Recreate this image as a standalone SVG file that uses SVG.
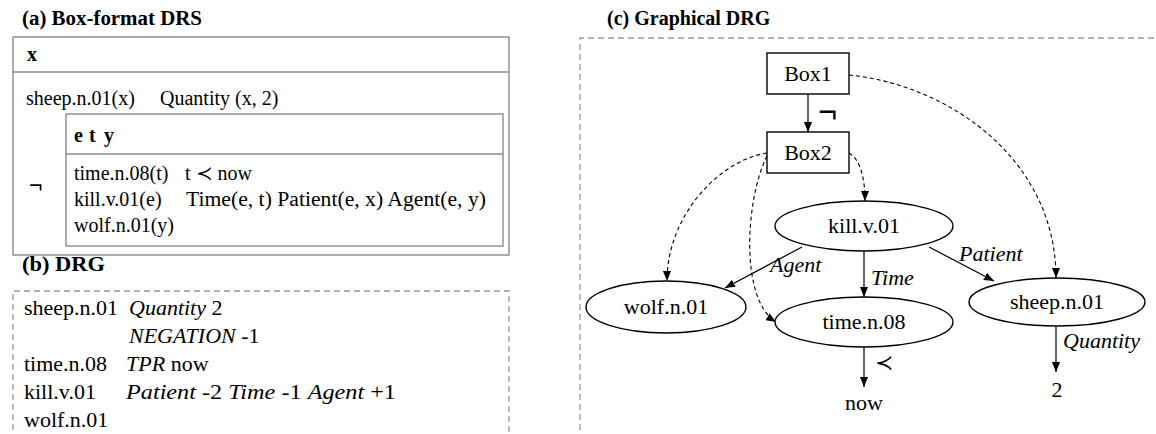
<svg xmlns="http://www.w3.org/2000/svg" width="1156" height="434" viewBox="0 0 1156 434" font-family="'Liberation Serif', 'Times New Roman', serif">
<style>
text{font-family:'Liberation Serif','Times New Roman','DejaVu Serif',serif;fill:#000}
.t{font-weight:bold;font-size:20px}
.a{font-size:20px}
.b{font-size:22px}
.c{font-size:22px}
.i{font-style:italic}
.mid{text-anchor:middle}
.neg1{font-weight:bold;font-size:24px}
.neg2{font-weight:bold;font-size:34px}
.box{fill:none;stroke:#8a8a8a;stroke-width:1.4}
.dash{fill:none;stroke:#999;stroke-width:1.3;stroke-dasharray:6 4}
.node{fill:#fff;stroke:#000;stroke-width:1.4}
.e{fill:none;stroke:#000;stroke-width:1.2}
.d{fill:none;stroke:#000;stroke-width:1.1;stroke-dasharray:4 3}
</style>
<defs>
<marker id="ah" markerUnits="userSpaceOnUse" markerWidth="10" markerHeight="8" refX="10" refY="4" orient="auto">
<path d="M0,0 L10,4 L0,8 z" fill="#000"/>
</marker>
</defs>

<g id="panel-a">
<text class="t" x="22" y="25" textLength="180" lengthAdjust="spacingAndGlyphs">(a) Box-format DRS</text>
<rect class="box" x="13" y="37" width="496" height="218"/>
<line class="box" x1="13" y1="72" x2="509" y2="72"/>
<text class="a" x="27" y="61" font-weight="bold">x</text>
<text class="a" x="26" y="105">sheep.n.01(x)</text>
<text class="a" x="160" y="105">Quantity (x, 2)</text>
<text class="neg1" x="29" y="193">¬</text>
<rect class="box" x="66" y="114" width="437" height="132"/>
<line class="box" x1="66" y1="154" x2="503" y2="154"/>
<text class="a" x="74" y="142" font-weight="bold">e</text>
<text class="a" x="89" y="142" font-weight="bold">t</text>
<text class="a" x="104" y="142" font-weight="bold">y</text>
<text class="a" x="74" y="180">time.n.08(t)</text>
<text class="a" x="185" y="180">t ≺ now</text>
<text class="a" x="74" y="206">kill.v.01(e)</text>
<text class="a" x="186" y="206" textLength="300" lengthAdjust="spacingAndGlyphs">Time(e, t) Patient(e, x) Agent(e, y)</text>
<text class="a" x="74" y="232">wolf.n.01(y)</text>
</g>

<g id="panel-b">
<text class="t" x="22" y="271" textLength="83" lengthAdjust="spacingAndGlyphs">(b) DRG</text>
<path class="dash" d="M13,440 V291 H509 V440"/>
<text class="b" x="24" y="315">sheep.n.01</text>
<text class="b" x="129" y="315"><tspan class="i">Quantity</tspan> 2</text>
<text class="b" x="129" y="343"><tspan class="i">NEGATION</tspan> -1</text>
<text class="b" x="24" y="371">time.n.08</text>
<text class="b" x="126" y="371"><tspan class="i">TPR</tspan> now</text>
<text class="b" x="24" y="399">kill.v.01</text>
<text class="b" x="126" y="399" textLength="270" lengthAdjust="spacingAndGlyphs"><tspan class="i">Patient</tspan> -2 <tspan class="i">Time</tspan> -1 <tspan class="i">Agent</tspan> +1</text>
<text class="b" x="24" y="427">wolf.n.01</text>
</g>

<g id="panel-c">
<text class="t" x="607" y="25">(c) Graphical DRG</text>
<path class="dash" d="M580,440 V38 H1160"/>
</g>

<g id="connectors">
<path class="e" d="M808,94 V132" marker-end="url(#ah)"/>
<path class="d" d="M849,75 C950,85 1056,160 1056,278" marker-end="url(#ah)"/>
<path class="d" d="M767,153 C720,160 667,215 667,281" marker-end="url(#ah)"/>
<path class="d" d="M767,156 C745,200 740,300 776,322" marker-end="url(#ah)"/>
<path class="d" d="M849,153 C861,160 865,180 865,201" marker-end="url(#ah)"/>
<path class="e" d="M802,247 L725,288" marker-end="url(#ah)"/>
<path class="e" d="M864,251 V297" marker-end="url(#ah)"/>
<path class="e" d="M929,247 L994,281" marker-end="url(#ah)"/>
<path class="e" d="M864,347 V387" marker-end="url(#ah)"/>
<path class="e" d="M1056,326 V372" marker-end="url(#ah)"/>
<text class="neg2" x="818" y="123">¬</text>
<text class="c i" x="770" y="272">Agent</text>
<text class="c i" x="871" y="285">Time</text>
<text class="c i" x="959" y="261">Patient</text>
<text class="c i" x="1063" y="348">Quantity</text>
<text class="c" x="875" y="370">≺</text>
</g>

<g id="box1">
<rect class="node" x="767" y="53" width="82" height="41"/>
<text class="c mid" x="808" y="81">Box1</text>
</g>
<g id="box2">
<rect class="node" x="767" y="132" width="82" height="41"/>
<text class="c mid" x="808" y="160">Box2</text>
</g>
<g id="kill">
<ellipse class="node" cx="864" cy="226" rx="89" ry="25"/>
<text class="c mid" x="864" y="233">kill.v.01</text>
</g>
<g id="wolf">
<ellipse class="node" cx="666" cy="307" rx="80" ry="26"/>
<text class="c mid" x="666" y="314">wolf.n.01</text>
</g>
<g id="time">
<ellipse class="node" cx="864" cy="322" rx="89" ry="25"/>
<text class="c mid" x="864" y="329">time.n.08</text>
</g>
<g id="sheep">
<ellipse class="node" cx="1057" cy="302" rx="88" ry="24"/>
<text class="c mid" x="1057" y="309">sheep.n.01</text>
</g>
<g id="now">
<text class="c mid" x="864" y="410">now</text>
</g>
<g id="two">
<text class="c mid" x="1057" y="397">2</text>
</g>
</svg>
